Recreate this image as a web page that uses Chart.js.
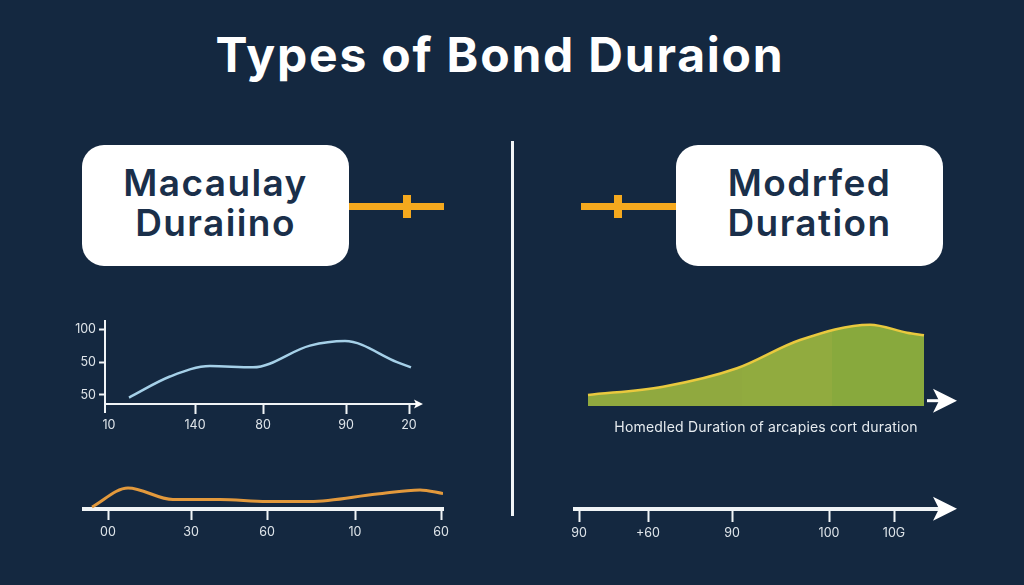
<!DOCTYPE html>
<html>
<head>
<meta charset="utf-8">
<title>Types of Bond Duration</title>
<script src="https://cdn.jsdelivr.net/npm/chart.js@4"></script>
<style>
  html, body { margin: 0; padding: 0; }
  body { width: 1024px; height: 585px; background: #142840; position: relative; overflow: hidden; font-family: Inter, sans-serif; }
  h1 { position: absolute; left: 0; top: 25px; width: 1000px; margin: 0; text-align: center; color: #fff; font-size: 48px; line-height: 60px; font-weight: 700; letter-spacing: 1.8px; }
  .box { position: absolute; top: 145px; height: 121px; width: 267px; background: #fff; border-radius: 22px; color: #1a2f4a; font-size: 37px; line-height: 40px; font-weight: 600; letter-spacing: 1.4px; text-align: center; padding-top: 18px; box-sizing: border-box; }
  .bar { position: absolute; top: 203px; height: 7px; width: 95px; background: #f5a91e; }
  .cross { position: absolute; top: 195px; height: 23px; width: 8px; background: #f5a91e; }
  .divider { position: absolute; left: 511px; top: 141px; width: 3px; height: 375px; background: #f0f4f6; }
  .caption { position: absolute; left: 566px; width: 400px; top: 418px; text-align: center; color: #e6ebef; font-size: 14px; line-height: 18px; letter-spacing: 0.2px; }
  canvas { position: absolute; }
</style>
</head>
<body>
<h1>Types of Bond Duraion</h1>
<div class="box" style="left:82px">Macaulay<br>Duraiino</div>
<div class="box" style="left:676px">Modrfed<br>Duration</div>
<div class="bar" style="left:349px"></div>
<div class="cross" style="left:403px"></div>
<div class="bar" style="left:581px"></div>
<div class="cross" style="left:614px"></div>
<div class="divider"></div>

<canvas id="macaulayChart" width="370" height="125" style="left:60px;top:310px"></canvas>
<canvas id="orangeChart" width="385" height="75" style="left:72px;top:470px"></canvas>
<canvas id="modifiedChart" width="410" height="230" style="left:563px;top:315px"></canvas>
<div class="caption">Homedled Duration of arcapies cort duration</div>

<script>
// Values
const macaulayX = [24, 65, 105, 148, 205, 240, 292, 306];
const macaulayY = [-4, 28, 44, 42, 75, 82, 50, 42];
const macaulayXTicks = [4, 90, 158, 241, 304];
const macaulayXLabels = ['10', '140', '80', '90', '20'];
const macaulayYTicks = [100, 50, 0];
const macaulayYLabels = ['100', '50', '50'];

const orangeX = [10, 46, 91, 138, 185, 228, 295, 338, 361];
const orangeY = [2, 21, 9.5, 9.5, 7.5, 7.5, 15, 19, 15.5];
const orangeXTicks = [26, 109, 185, 273, 359];
const orangeXLabels = ['00', '30', '60', '10', '60'];

const modifiedX = [0, 75, 149, 212, 282, 319, 336];
const modifiedY = [11, 19.3, 37.7, 66, 81.3, 73.3, 70.7];
const modifiedXTicks = [-9, 60, 144, 241, 306];
const modifiedXLabels = ['90', '+60', '90', '100', '10G'];

const AXIS_COLOR = '#f0f4f6';
const LABEL_COLOR = '#dfe5ea';
const TICK_FONT = { family: 'Inter', size: 12.5 };

function toPoints(xs, ys) {
  return xs.map((x, i) => ({ x, y: ys[i] }));
}

// Tick positions on these axes are not regular, so they get set by hand
function fixedTicks(values, labels, padding) {
  return {
    afterBuildTicks: scale => { scale.ticks = values.map(value => ({ value })); },
    ticks: {
      callback: (value, index) => labels[index],
      color: LABEL_COLOR,
      font: TICK_FONT,
      autoSkip: false,
      maxRotation: 0,
      padding,
    },
  };
}

function drawArrow(ctx, tipX, y, length, halfHeight, notch) {
  ctx.save();
  ctx.fillStyle = '#ffffff';
  ctx.beginPath();
  ctx.moveTo(tipX, y);
  ctx.lineTo(tipX - length, y - halfHeight);
  ctx.lineTo(tipX - length + notch, y);
  ctx.lineTo(tipX - length, y + halfHeight);
  ctx.closePath();
  ctx.fill();
  ctx.restore();
}

// Arrowheads at the ends of the axes
const arrowPlugin = {
  id: 'axisArrows',
  afterDraw(chart, args, opts) {
    const { x, y } = chart.scales;
    const ctx = chart.ctx;
    (opts.list || []).forEach(a => {
      const py = y.getPixelForValue(a.y);
      const tip = x.getPixelForValue(a.tip);
      if (a.shaftFrom !== undefined) {
        ctx.save();
        ctx.strokeStyle = '#ffffff';
        ctx.lineWidth = 3;
        ctx.beginPath();
        ctx.moveTo(x.getPixelForValue(a.shaftFrom), py);
        ctx.lineTo(tip - 8, py);
        ctx.stroke();
        ctx.restore();
      }
      drawArrow(ctx, tip, py, a.length, a.halfHeight, a.notch);
    });
  },
};

// The green area has faint vertical bands
function bandedFill(context) {
  const chart = context.chart;
  if (!chart.chartArea) return '#8ca93e';
  const x = chart.scales.x;
  const left = x.getPixelForValue(0);
  const right = x.getPixelForValue(336);
  const grad = chart.ctx.createLinearGradient(left, 0, right, 0);
  const stop1 = 154 / 336;
  const stop2 = 244 / 336;
  grad.addColorStop(0, '#90a93f');
  grad.addColorStop(stop1, '#90a93f');
  grad.addColorStop(stop1, '#91ab3f');
  grad.addColorStop(stop2, '#91ab3f');
  grad.addColorStop(stop2, '#88a93d');
  grad.addColorStop(1, '#88a93d');
  return grad;
}

const baseOptions = {
  responsive: false,
  animation: false,
  events: [],
};

new Chart(document.getElementById('macaulayChart'), {
  type: 'line',
  plugins: [arrowPlugin],
  data: {
    datasets: [{
      data: toPoints(macaulayX, macaulayY),
      borderColor: '#a5d0e8',
      borderWidth: 2.5,
      pointRadius: 0,
      cubicInterpolationMode: 'monotone',
      fill: false,
    }],
  },
  options: {
    ...baseOptions,
    layout: { padding: { top: 8, right: 15, bottom: 23, left: 0 } },
    plugins: {
      legend: { display: false },
      tooltip: { enabled: false },
      axisArrows: { list: [{ y: -14, tip: 318, length: 9, halfHeight: 4.5, notch: 2 }] },
    },
    scales: {
      x: {
        type: 'linear',
        min: 0,
        max: 310,
        position: { y: -14 },
        border: { color: AXIS_COLOR, width: 2 },
        grid: {
          drawOnChartArea: false,
          tickLength: 9,
          tickWidth: 2,
          tickColor: ctx => (ctx.index === 0 ? 'transparent' : AXIS_COLOR),
        },
        ...fixedTicks(macaulayXTicks, macaulayXLabels, 5),
      },
      y: {
        type: 'linear',
        min: -26,
        max: 113.3,
        border: { color: AXIS_COLOR, width: 2 },
        grid: { drawOnChartArea: false, tickLength: 6, tickWidth: 2, tickColor: AXIS_COLOR },
        afterFit: scale => { scale.width = 45; },
        ...fixedTicks(macaulayYTicks, macaulayYLabels, 3),
      },
    },
  },
});

new Chart(document.getElementById('orangeChart'), {
  type: 'line',
  data: {
    datasets: [{
      data: toPoints(orangeX, orangeY),
      borderColor: '#e2993c',
      borderWidth: 3,
      pointRadius: 0,
      cubicInterpolationMode: 'monotone',
      fill: false,
    }],
  },
  options: {
    ...baseOptions,
    layout: { padding: { top: 0, right: 14, bottom: 0, left: 12 } },
    plugins: { legend: { display: false }, tooltip: { enabled: false } },
    scales: {
      x: {
        type: 'linear',
        min: 2,
        max: 361,
        border: { color: AXIS_COLOR, width: 4 },
        grid: { drawOnChartArea: false, tickLength: 11, tickWidth: 2, tickColor: AXIS_COLOR },
        afterFit: scale => { scale.height = 36; },
        ...fixedTicks(orangeXTicks, orangeXLabels, 5),
      },
      y: { type: 'linear', min: 0, max: 39, display: false },
    },
  },
});

new Chart(document.getElementById('modifiedChart'), {
  type: 'line',
  plugins: [arrowPlugin],
  data: {
    datasets: [{
      data: toPoints(modifiedX, modifiedY),
      borderColor: '#e9c93e',
      backgroundColor: bandedFill,
      borderWidth: 2.5,
      pointRadius: 0,
      cubicInterpolationMode: 'monotone',
      fill: { value: 0 },
    }],
  },
  options: {
    ...baseOptions,
    layout: { padding: { top: 5, right: 25, bottom: 0, left: 12 } },
    plugins: {
      legend: { display: false },
      tooltip: { enabled: false },
      axisArrows: {
        list: [
          { y: 5.3, tip: 369, shaftFrom: 339, length: 24, halfHeight: 12, notch: 6 },
          { y: -102.7, tip: 369, length: 24, halfHeight: 12, notch: 6 },
        ],
      },
    },
    scales: {
      x: {
        type: 'linear',
        min: -13,
        max: 360,
        position: { y: -102.7 },
        border: { color: AXIS_COLOR, width: 4 },
        grid: { drawOnChartArea: false, tickLength: 11, tickWidth: 2, tickColor: AXIS_COLOR },
        ...fixedTicks(modifiedXTicks, modifiedXLabels, 6),
      },
      y: { type: 'linear', min: -139, max: 86, display: false },
    },
  },
});
</script>
</body>
</html>
